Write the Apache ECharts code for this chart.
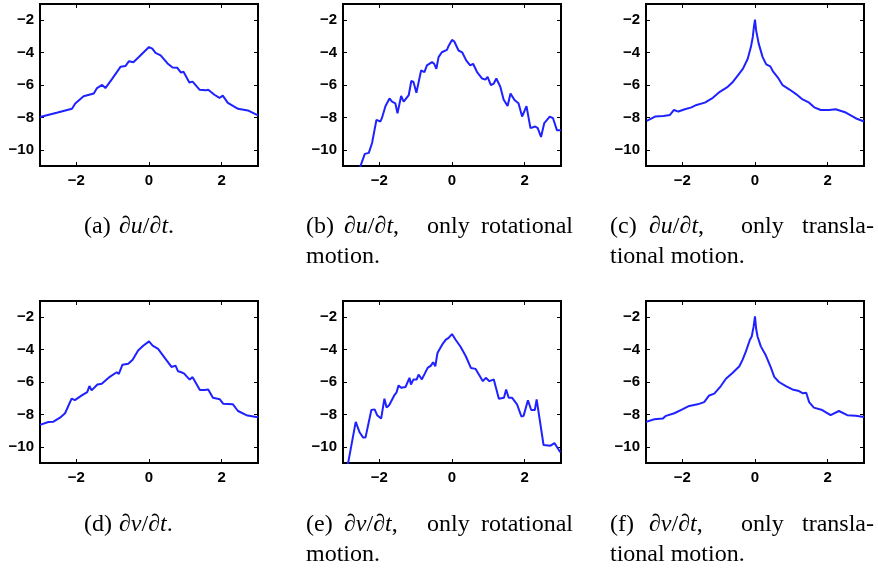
<!DOCTYPE html>
<html>
<head>
<meta charset="utf-8">
<script src="https://cdn.jsdelivr.net/npm/echarts@6/dist/echarts.min.js"></script>
<style>
html,body{margin:0;padding:0;background:#fff;}
#c{width:878px;height:573px;}
</style>
</head>
<body>
<div id="c"></div>
<script>
// ---- data ----
const xTicks = [-2, 0, 2];
const yTicks = [-10, -8, -6, -4, -2];
const xRange = [-3, 3];
const yRange = [-11, -1];

const curveA = [[-3,-7.97],[-2.54,-7.71],[-2.12,-7.47],[-2.03,-7.14],[-1.8,-6.70],[-1.52,-6.53],[-1.43,-6.19],[-1.29,-5.99],[-1.2,-6.19],[-1.02,-5.64],[-0.78,-4.87],[-0.65,-4.83],[-0.55,-4.53],[-0.43,-4.59],[-0.28,-4.27],[-0.14,-3.96],[0,-3.66],[0.09,-3.76],[0.18,-4.02],[0.32,-4.17],[0.51,-4.67],[0.65,-4.92],[0.78,-4.94],[0.88,-5.24],[0.95,-5.18],[1.11,-5.85],[1.2,-5.79],[1.39,-6.29],[1.57,-6.33],[1.63,-6.29],[1.8,-6.6],[1.94,-6.8],[2.03,-6.66],[2.17,-7.1],[2.45,-7.47],[2.72,-7.57],[3.0,-7.87]];

const curveB = [[-2.55,-11.2],[-2.4,-10.25],[-2.29,-10.19],[-2.2,-9.58],[-2.08,-8.15],[-1.97,-8.25],[-1.93,-8.05],[-1.83,-7.3],[-1.72,-6.83],[-1.65,-7.03],[-1.56,-7.13],[-1.5,-7.74],[-1.4,-6.68],[-1.33,-7.03],[-1.19,-6.62],[-1.12,-5.75],[-1.06,-5.81],[-0.98,-6.48],[-0.85,-5.1],[-0.76,-5.2],[-0.69,-4.79],[-0.55,-4.59],[-0.49,-4.69],[-0.43,-5.0],[-0.37,-4.28],[-0.28,-3.98],[-0.14,-3.83],[-0.09,-3.57],[0,-3.22],[0.06,-3.3],[0.18,-3.87],[0.28,-3.98],[0.39,-4.48],[0.5,-4.79],[0.58,-4.69],[0.69,-5.2],[0.73,-5.1],[0.83,-5.6],[0.92,-5.67],[0.98,-5.5],[1.07,-6.01],[1.15,-5.91],[1.22,-5.6],[1.33,-6.11],[1.42,-6.89],[1.53,-7.3],[1.61,-6.52],[1.72,-6.93],[1.83,-7.13],[1.93,-7.95],[2.05,-7.3],[2.16,-8.66],[2.29,-8.56],[2.36,-8.66],[2.45,-9.21],[2.54,-8.35],[2.69,-7.95],[2.78,-8.05],[2.89,-8.8],[3.0,-8.8]];

const curveC = [[-2.98,-8.21],[-2.75,-7.95],[-2.52,-7.91],[-2.34,-7.85],[-2.23,-7.54],[-2.11,-7.64],[-1.93,-7.5],[-1.75,-7.38],[-1.61,-7.23],[-1.38,-7.09],[-1.16,-6.79],[-0.97,-6.42],[-0.75,-6.11],[-0.61,-5.81],[-0.47,-5.4],[-0.33,-4.99],[-0.2,-4.38],[-0.11,-3.63],[-0.06,-3.02],[-0.03,-2.41],[0,-1.96],[0.03,-2.61],[0.1,-3.43],[0.21,-4.28],[0.31,-4.73],[0.42,-4.85],[0.49,-5.14],[0.63,-5.54],[0.76,-6.01],[0.95,-6.28],[1.13,-6.56],[1.31,-6.89],[1.49,-7.09],[1.63,-7.38],[1.81,-7.54],[2.04,-7.54],[2.22,-7.5],[2.5,-7.7],[2.77,-8.05],[3.0,-8.25]];

const curveD = [[-3,-8.65],[-2.77,-8.47],[-2.63,-8.45],[-2.45,-8.2],[-2.31,-7.93],[-2.13,-7.03],[-2.04,-7.12],[-1.85,-6.83],[-1.7,-6.62],[-1.64,-6.25],[-1.58,-6.52],[-1.42,-6.15],[-1.3,-6.11],[-1.08,-5.68],[-0.89,-5.4],[-0.83,-5.5],[-0.73,-4.93],[-0.57,-4.87],[-0.45,-4.62],[-0.3,-4.05],[-0.16,-3.76],[0,-3.49],[0.1,-3.76],[0.25,-3.96],[0.3,-4.0],[0.48,-4.65],[0.62,-5.07],[0.73,-4.99],[0.8,-5.34],[0.89,-5.4],[0.97,-5.48],[1.03,-5.64],[1.12,-5.85],[1.2,-5.7],[1.4,-6.5],[1.53,-6.5],[1.63,-6.46],[1.76,-6.97],[1.95,-7.07],[2.04,-7.34],[2.31,-7.38],[2.45,-7.79],[2.68,-8.05],[2.95,-8.16],[3.0,-8.16]];

const curveE = [[-2.9,-11.5],[-2.65,-8.46],[-2.54,-9.12],[-2.45,-9.42],[-2.38,-9.42],[-2.22,-7.73],[-2.13,-7.69],[-2.06,-8.05],[-1.95,-8.26],[-1.86,-7.03],[-1.8,-7.58],[-1.73,-7.44],[-1.59,-6.83],[-1.53,-6.66],[-1.47,-6.21],[-1.4,-6.36],[-1.28,-6.31],[-1.17,-5.74],[-1.13,-6.15],[-1.06,-5.84],[-0.97,-5.84],[-0.92,-5.54],[-0.83,-5.84],[-0.67,-5.13],[-0.58,-4.99],[-0.52,-4.78],[-0.46,-5.03],[-0.4,-4.21],[-0.35,-4.3],[-0.26,-3.66],[-0.17,-3.39],[-0.1,-3.29],[0,-3.04],[0.1,-3.39],[0.24,-3.84],[0.38,-4.41],[0.52,-5.13],[0.65,-5.19],[0.74,-5.54],[0.85,-5.95],[0.93,-5.74],[1.03,-5.95],[1.15,-5.84],[1.29,-7.03],[1.43,-6.97],[1.49,-6.46],[1.56,-6.97],[1.65,-6.97],[1.79,-7.38],[1.91,-8.13],[1.97,-8.09],[2.09,-7.13],[2.18,-7.73],[2.28,-7.73],[2.33,-7.07],[2.52,-9.89],[2.71,-9.93],[2.82,-9.77],[2.98,-10.34]];

const curveF = [[-3,-8.46],[-2.77,-8.3],[-2.54,-8.26],[-2.45,-8.09],[-2.22,-7.93],[-2.0,-7.69],[-1.81,-7.48],[-1.58,-7.38],[-1.4,-7.24],[-1.26,-6.83],[-1.12,-6.72],[-0.94,-6.25],[-0.8,-5.8],[-0.62,-5.44],[-0.43,-5.03],[-0.34,-4.62],[-0.25,-4.11],[-0.14,-3.39],[-0.09,-3.19],[-0.04,-2.6],[0,-1.95],[0.03,-2.7],[0.07,-3.19],[0.16,-3.8],[0.3,-4.37],[0.43,-5.07],[0.53,-5.68],[0.66,-6.0],[0.85,-6.25],[1.03,-6.46],[1.21,-6.56],[1.32,-6.7],[1.41,-6.66],[1.49,-7.24],[1.62,-7.58],[1.85,-7.73],[2.08,-8.05],[2.31,-7.79],[2.54,-8.05],[2.77,-8.09],[3.0,-8.16]];

const curves = [curveA, curveB, curveC, curveD, curveE, curveF];

// captions: words per line with anchor x and alignment
const captionRows = [
  [
    [[['(a)',84,'left'],['∂u/∂t.',119,'left']]],
    [[['(b)',306,'left'],['∂u/∂t,',344,'left'],['only',427,'left'],['rotational',573,'right']], [['motion.',306,'left']]],
    [[['(c)',610,'left'],['∂u/∂t,',649,'left'],['only',741,'left'],['transla-',874,'right']], [['tional motion.',610,'left']]]
  ],
  [
    [[['(d)',84,'left'],['∂v/∂t.',119,'left']]],
    [[['(e)',306,'left'],['∂v/∂t,',344,'left'],['only',427,'left'],['rotational',573,'right']], [['motion.',306,'left']]],
    [[['(f)',610,'left'],['∂v/∂t,',649,'left'],['only',741,'left'],['transla-',874,'right']], [['tional motion.',610,'left']]]
  ]
];

// ---- layout ----
const colLeft = [40, 343, 646];
const rowTop = [4, 301];
const gw = 218, gh = 162;
const captionY = [227, 525];
const lineGap = 30;
const lineColor = '#1f22ff';

const minus = v => String(v).replace('-', '\u2212');
const labelFont = {fontFamily: 'Liberation Sans', fontWeight: 'bold', fontSize: 15, color: '#000'};
const tickStyle = {color: '#000', width: 1};

const grid = [], xAxis = [], yAxis = [], series = [];
for (let r = 0; r < 2; r++) {
  for (let c = 0; c < 3; c++) {
    const i = r * 3 + c;
    grid.push({left: colLeft[c], top: rowTop[r], width: gw, height: gh, show: true,
      borderColor: '#000', borderWidth: 2, backgroundColor: '#fff', containLabel: false});
    const common = {type: 'value', gridIndex: i, splitLine: {show: false}, axisLine: {show: false, onZero: false}};
    xAxis.push(Object.assign({}, common, {position: 'bottom', min: xRange[0], max: xRange[1],
      axisTick: {show: true, inside: true, length: 4, customValues: xTicks, lineStyle: tickStyle},
      axisLabel: Object.assign({show: true, margin: 7, customValues: xTicks, formatter: minus}, labelFont)}));
    xAxis.push(Object.assign({}, common, {position: 'top', min: xRange[0], max: xRange[1],
      axisTick: {show: true, inside: true, length: 4, customValues: xTicks, lineStyle: tickStyle},
      axisLabel: {show: false}}));
    yAxis.push(Object.assign({}, common, {position: 'left', min: yRange[0], max: yRange[1],
      axisTick: {show: true, inside: true, length: 4, customValues: yTicks, lineStyle: tickStyle},
      axisLabel: Object.assign({show: true, margin: 6, customValues: yTicks, formatter: minus}, labelFont)}));
    yAxis.push(Object.assign({}, common, {position: 'right', min: yRange[0], max: yRange[1],
      axisTick: {show: true, inside: true, length: 4, customValues: yTicks, lineStyle: tickStyle},
      axisLabel: {show: false}}));
    series.push({type: 'line', xAxisIndex: i * 2, yAxisIndex: i * 2, data: curves[i],
      showSymbol: false, symbol: 'none', clip: true, smooth: false,
      lineStyle: {color: lineColor, width: 2}, z: 3});
  }
}

// caption text elements
const graphic = [];
const capFont = 'Liberation Serif';
const capSize = 24;
function wordText(w) {
  if (w.indexOf('∂') >= 0) {
    let out = '';
    for (const ch of w) {
      if (ch === '/' || ch === ',' || ch === '.') out += '{n|' + ch + '}';
      else out += '{i|' + ch + '}';
    }
    return out;
  }
  return '{n|' + w + '}';
}
captionRows.forEach((row, r) => {
  row.forEach(cap => {
    cap.forEach((line, li) => {
      line.forEach(([w, x, al]) => {
        graphic.push({type: 'text', x: x, y: captionY[r] + li * lineGap, silent: true,
          style: {text: wordText(w), verticalAlign: 'middle', align: al,
            rich: {
              n: {fontFamily: capFont, fontSize: capSize, fill: '#000', color: '#000'},
              i: {fontFamily: capFont, fontSize: capSize, fontStyle: 'italic', fill: '#000', color: '#000'}
            }}});
      });
    });
  });
});

const chart = echarts.init(document.getElementById('c'), null, {renderer: 'canvas'});
chart.setOption({animation: false, backgroundColor: '#fff', grid, xAxis, yAxis, series, graphic});
</script>
</body>
</html>
